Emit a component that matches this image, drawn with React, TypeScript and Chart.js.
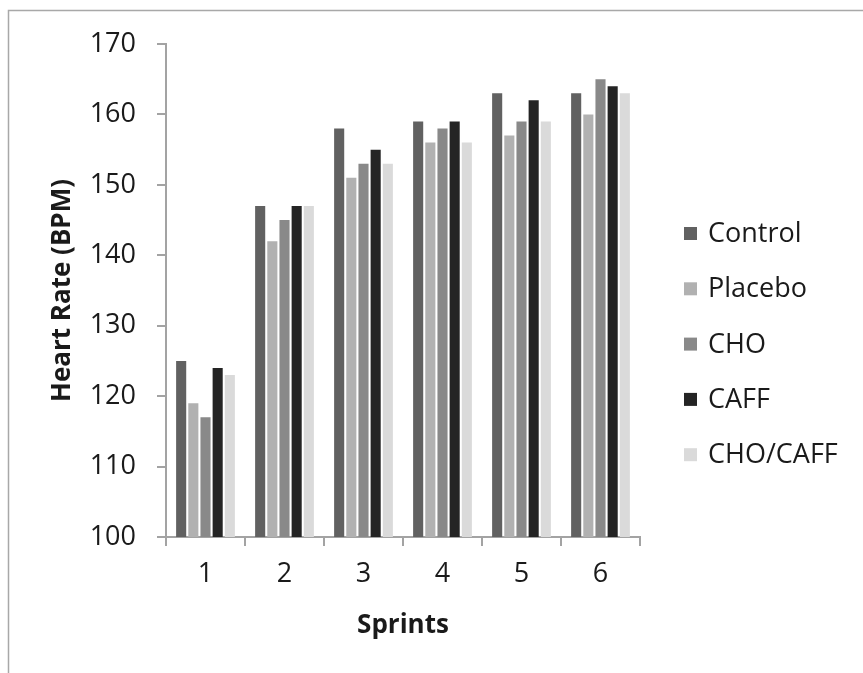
import React, { useEffect, useRef } from "react";
import { Chart, registerables } from "chart.js";

Chart.register(...registerables);

const categories = ["1", "2", "3", "4", "5", "6"];
const seriesNames = ["Control", "Placebo", "CHO", "CAFF", "CHO/CAFF"];
const control = [125, 147, 158, 159, 163, 163];
const placebo = [119, 142, 151, 156, 157, 160];
const cho = [117, 145, 153, 158, 159, 165];
const caff = [124, 147, 155, 159, 162, 164];
const choCaff = [123, 147, 153, 156, 159, 163];
const seriesColors = ["#616161", "#b1b1b1", "#898989", "#242424", "#dadada"];
const yMin = 100;
const yMax = 170;
const yStep = 10;
const xTitle = "Sprints";
const yTitle = "Heart Rate (BPM)";

const FONT = "'Open Sans', 'Noto Sans', sans-serif";
const AXIS_COLOR = "#a3a3a3";

const framePlugin = {
  id: "frameAndLegend",
  beforeDraw(chart: any) {
    const ctx = chart.ctx;
    ctx.save();
    ctx.fillStyle = "#ffffff";
    ctx.fillRect(0, 0, chart.width, chart.height);
    ctx.strokeStyle = "#a8a8a8";
    ctx.lineWidth = 1.5;
    ctx.beginPath();
    ctx.moveTo(8.5, chart.height + 2);
    ctx.lineTo(8.5, 10.5);
    ctx.lineTo(chart.width + 2, 10.5);
    ctx.stroke();
    ctx.restore();
  },
  afterDraw(chart: any) {
    const ctx = chart.ctx;
    ctx.save();
    const x0 = 684;
    const textX = 708;
    const firstRow = 232;
    const rowGap = 55.3;
    ctx.font = `27px ${FONT}`;
    ctx.textBaseline = "alphabetic";
    ctx.textAlign = "left";
    chart.data.datasets.forEach((ds: any, i: number) => {
      const cy = firstRow + i * rowGap;
      ctx.fillStyle = ds.backgroundColor;
      ctx.fillRect(x0, cy - 5, 13, 13);
      ctx.fillStyle = "#1a1a1a";
      ctx.fillText(ds.label, textX, cy + 10);
    });
    ctx.restore();
  },
};

export default function App() {
  const canvasRef = useRef<HTMLCanvasElement | null>(null);

  useEffect(() => {
    if (!canvasRef.current) return;
    const seriesValues = [control, placebo, cho, caff, choCaff];
    const chart = new Chart(canvasRef.current, {
      type: "bar",
      data: {
        labels: categories,
        datasets: seriesNames.map((name, i) => ({
          label: name,
          data: seriesValues[i],
          backgroundColor: seriesColors[i],
          borderWidth: 0,
          barPercentage: 0.83,
          categoryPercentage: 0.77,
        })),
      },
      options: {
        animation: false,
        responsive: false,
        maintainAspectRatio: false,
        devicePixelRatio: 1,
        layout: { padding: { left: 0, top: 44, right: 223, bottom: 0 } },
        plugins: {
          legend: { display: false },
          tooltip: { enabled: false },
          title: { display: false },
        },
        scales: {
          x: {
            offset: true,
            grid: {
              offset: true,
              drawOnChartArea: false,
              drawTicks: true,
              tickLength: 9,
              color: AXIS_COLOR,
              lineWidth: 2,
            },
            border: { display: true, color: AXIS_COLOR, width: 2 },
            ticks: {
              color: "#1a1a1a",
              font: { family: FONT, size: 27 },
              padding: 12,
              autoSkip: false,
              maxRotation: 0,
            },
            title: {
              display: true,
              text: xTitle,
              color: "#1a1a1a",
              font: { family: FONT, size: 26, weight: "bold" },
              padding: { top: 0, bottom: 32 },
            },
            afterFit(scale: any) {
              scale.height = 136;
            },
          },
          y: {
            min: yMin,
            max: yMax,
            ticks: {
              stepSize: yStep,
              color: "#1a1a1a",
              font: { family: FONT, size: 27 },
              padding: 21,
            },
            grid: {
              drawOnChartArea: false,
              drawTicks: true,
              tickLength: 9,
              color: AXIS_COLOR,
              lineWidth: 2,
            },
            border: { display: true, color: AXIS_COLOR, width: 2 },
            title: {
              display: true,
              text: yTitle,
              color: "#1a1a1a",
              font: { family: FONT, size: 26, weight: "bold" },
              padding: { top: 47, bottom: 0 },
            },
            afterFit(scale: any) {
              scale.width = 166;
            },
          },
        },
      },
      plugins: [framePlugin],
    });
    return () => chart.destroy();
  }, []);

  return (
    <div style={{ position: "absolute", left: 0, top: 0, width: 863, height: 673, background: "#fff" }}>
      <canvas ref={canvasRef} width={863} height={673} style={{ width: 863, height: 673, display: "block" }} />
    </div>
  );
}
